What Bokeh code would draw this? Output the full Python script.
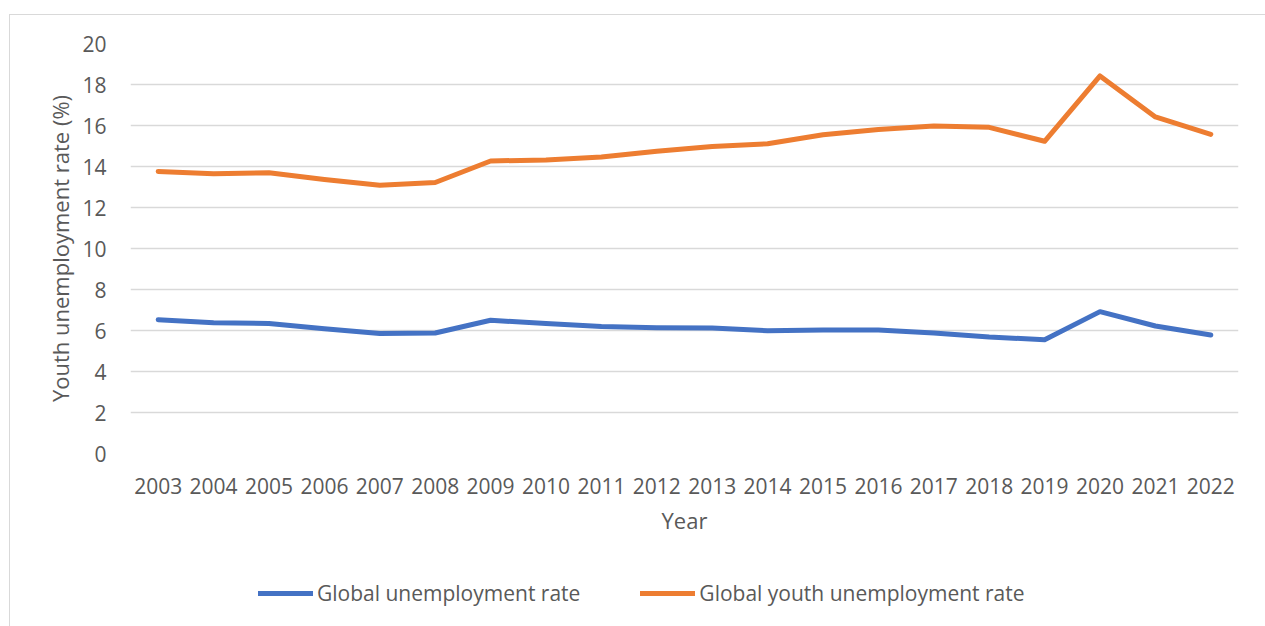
from bokeh.plotting import figure
from bokeh.layouts import column
from bokeh.models import FixedTicker, Legend, LegendItem, ColumnDataSource
from bokeh.embed import file_html
from bokeh.resources import INLINE

years = list(range(2003, 2023))
global_rate = [6.53, 6.38, 6.34, 6.08, 5.85, 5.88, 6.50, 6.34, 6.19, 6.14,
               6.12, 5.99, 6.03, 6.03, 5.88, 5.68, 5.55, 6.92, 6.22, 5.78]
youth_rate = [13.76, 13.65, 13.70, 13.37, 13.08, 13.22, 14.27, 14.32, 14.46, 14.74,
              14.98, 15.11, 15.55, 15.81, 15.98, 15.91, 15.23, 18.42, 16.42, 15.57]
y_ticks = [0, 2, 4, 6, 8, 10, 12, 14, 16, 18, 20]
series_names = ["Global unemployment rate", "Global youth unemployment rate"]
colors = ["#4472C4", "#ED7D31"]

FONT = "Open Sans"
TXT = "#595959"

src = ColumnDataSource(dict(year=years, g=global_rate, y=youth_rate))

p = figure(width=1255, height=526, x_range=(2002.5, 2022.5), y_range=(0, 20),
           output_backend="svg", toolbar_location=None,
           min_border_left=120, min_border_right=27, min_border_top=28,
           min_border_bottom=88)
p.outline_line_color = None
p.background_fill_color = "white"
p.border_fill_color = "white"

r1 = p.line("year", "g", source=src, line_color=colors[0], line_width=5, line_cap="round", line_join="round")
r2 = p.line("year", "y", source=src, line_color=colors[1], line_width=5, line_cap="round", line_join="round")

p.xaxis.ticker = FixedTicker(ticks=years)
p.yaxis.ticker = FixedTicker(ticks=y_ticks)
p.xgrid.grid_line_color = None
p.ygrid.grid_line_color = "#d9d9d9"
p.ygrid.grid_line_width = 1.3

for ax in (p.xaxis[0], p.yaxis[0]):
    ax.axis_line_color = None
    ax.major_tick_line_color = None
    ax.minor_tick_line_color = None
    ax.major_label_text_font = FONT
    ax.major_label_text_font_size = "21px"
    ax.major_label_text_color = TXT
    ax.axis_label_text_font = FONT
    ax.axis_label_text_font_size = "22px"
    ax.axis_label_text_font_style = "normal"
    ax.axis_label_text_color = TXT

p.yaxis.axis_label = "Youth unemployment rate (%)"
p.yaxis.major_label_standoff = 18
p.yaxis.axis_label_standoff = 4
p.xaxis.axis_label = "Year"
p.xaxis.major_label_standoff = 18
p.xaxis.axis_label_standoff = 8

# legend panel (separate figure so the legend is not clipped by the plot frame)
p2 = figure(width=1255, height=100, x_range=(0, 1), y_range=(0, 1),
            output_backend="svg", toolbar_location=None, min_border=0,
            x_axis_type=None, y_axis_type=None)
p2.outline_line_color = None
p2.grid.grid_line_color = None
p2.background_fill_color = "white"
p2.border_fill_color = "white"
# proxy renderers for the legend keys, placed outside the visible range
l1 = p2.line(x=[-5, -4], y=[-5, -4], line_color=colors[0], line_width=5, line_cap="round")
l2 = p2.line(x=[-5, -4], y=[-5, -4], line_color=colors[1], line_width=5, line_cap="round")

legend = Legend(items=[LegendItem(label=series_names[0], renderers=[l1]),
                       LegendItem(label=series_names[1], renderers=[l2])],
                orientation="horizontal", location=(128, 34),
                label_text_font=FONT, label_text_font_size="21px", label_text_color=TXT,
                glyph_width=55, glyph_height=20, label_standoff=4, spacing=60,
                border_line_color=None, background_fill_alpha=0,
                margin=0, padding=4)
p2.add_layout(legend, "center")

layout = column(p, p2, spacing=0)
layout.margin = (14, 0, 0, 9)
layout.styles = {"border-top": "1.5px solid #d9d9d9", "border-left": "1.5px solid #d9d9d9",
                 "background": "white"}

open("out.html", "w").write(file_html(layout, INLINE))
